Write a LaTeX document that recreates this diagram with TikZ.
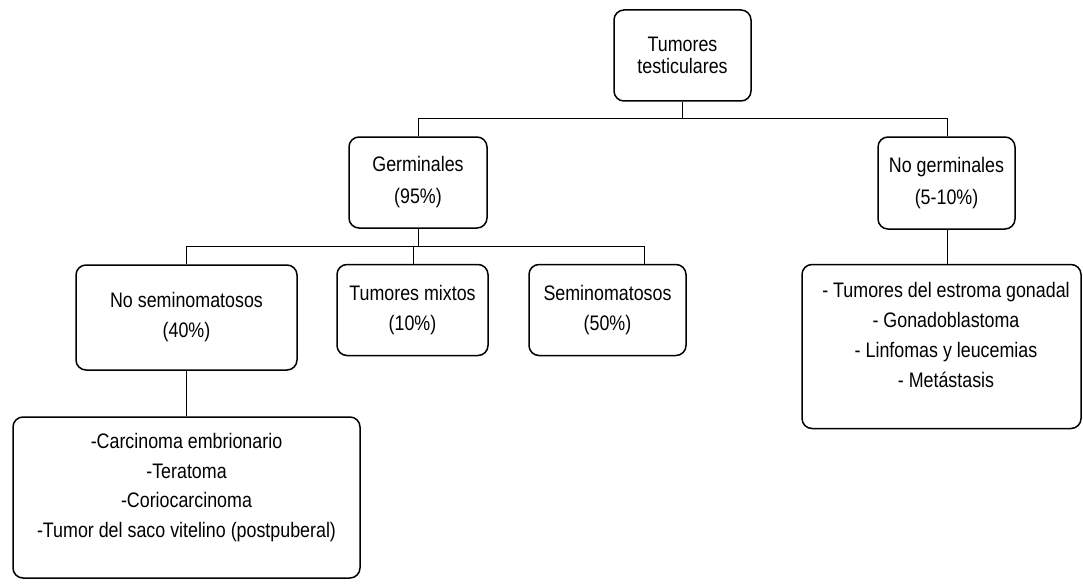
\documentclass[tikz,border=0pt]{standalone}
\usepackage{fontspec}
\setmainfont{Liberation Sans}[FakeStretch=0.85]
\tikzset{
  box/.style={draw=black, line width=1.5pt, rounded corners=10pt, fill=white, align=center, inner sep=0pt},
  conn/.style={draw=black, line width=1pt},
  txt/.style={align=center, inner sep=0pt},
}
\newcommand{\fs}[1]{\fontsize{21}{#1}\selectfont}
\begin{document}
\begin{tikzpicture}[x=1pt,y=-1pt]
\useasboundingbox (0,0) rectangle (1083,583);
% boxes
\node[box, minimum width=137pt, minimum height=91pt, font=\fs{22}] (top) at (682.5,55.5) {Tumores\\testiculares};
\node[box, minimum width=138pt, minimum height=91pt, font=\fs{32}] (germ) at (418,182.5) {Germinales\\(95\%)};
\node[box, minimum width=137pt, minimum height=92pt, font=\fs{32}] (nogerm) at (946.5,183) {No germinales\\(5-10\%)};
\node[box, minimum width=221pt, minimum height=105pt, font=\fs{30}] (nosem) at (186.5,317.5) {No seminomatosos\\(40\%)};
\node[box, minimum width=151pt, minimum height=91pt, font=\fs{30}] (mixtos) at (412.5,310) {Tumores mixtos\\(10\%)};
\node[box, minimum width=157pt, minimum height=91pt, font=\fs{30}] (sem) at (607.5,310) {Seminomatosos\\(50\%)};
\node[box, minimum width=347pt, minimum height=161pt] (ll) at (186.5,497.5) {};
\node[txt, font=\fs{29.7}] (lltext) at (186.5,487.5) {-Carcinoma embrionario\\-Teratoma\\-Coriocarcinoma\\-Tumor del saco vitelino (postpuberal)};
\node[box, minimum width=279pt, minimum height=164pt] (rl) at (941.5,346.5) {};
\node[txt, font=\fs{30}] (rltext) at (946,335) {- Tumores del estroma gonadal\\- Gonadoblastoma\\- Linfomas y leucemias\\- Metástasis};
% junctions
\coordinate (j1) at (682.5,119);
\coordinate (j2) at (418,246);
\coordinate (s3) at (644,246);
\coordinate (m3) at (413,246);
\coordinate (r3) at (947,119);
% connectors
\draw[conn] (top.south) -- (j1);
\draw[conn] (germ.north) -- (germ.north |- j1) -- (r3) -- (r3 |- nogerm.north);
\draw[conn] (germ.south) -- (j2);
\draw[conn] (nosem.north) -- (nosem.north |- j2) -- (s3) -- (s3 |- sem.north);
\draw[conn] (m3) -- (m3 |- mixtos.north);
\draw[conn] (nosem.south) -- (nosem.south |- ll.north);
\draw[conn] (r3 |- nogerm.south) -- (r3 |- rl.north);
\end{tikzpicture}
\end{document}
